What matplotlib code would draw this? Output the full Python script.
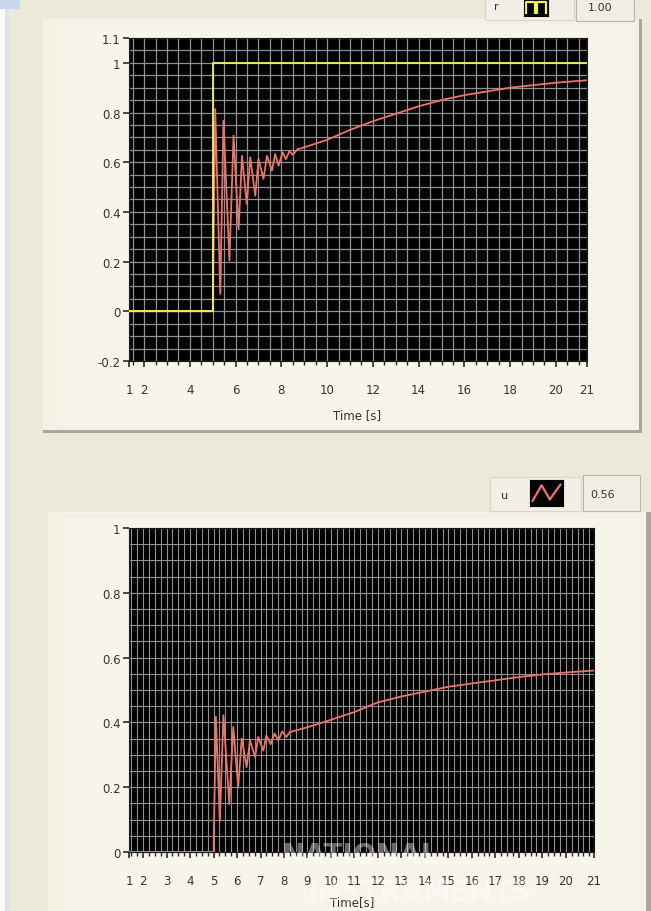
import numpy as np
import matplotlib
matplotlib.use('Agg')
import matplotlib.pyplot as plt
from matplotlib.patches import Rectangle

# data
# top chart: setpoint r and output y
t_r = [1.34, 5.0, 5.0, 21.36]
r = [0.0, 0.0, 1.0, 1.0]
t_y = [1.34, 5.0, 5.11, 5.33, 5.47, 5.73, 5.91, 6.13, 6.28, 6.49, 6.64, 6.86,
       7.0, 7.22, 7.37, 7.59, 7.73, 7.88, 8.05, 8.2, 8.35, 8.5, 8.7, 9.0,
       10.0, 11.0, 12.0, 13.0, 14.0, 15.0, 16.0, 17.0, 18.0, 19.0, 20.0, 21.36]
y = [0.0, 0.0, 0.814, 0.07, 0.767, 0.204, 0.707, 0.33, 0.626, 0.432, 0.62, 0.465,
     0.613, 0.533, 0.626, 0.566, 0.633, 0.586, 0.64, 0.612, 0.645, 0.63, 0.652, 0.66,
     0.69, 0.73, 0.765, 0.795, 0.825, 0.85, 0.87, 0.885, 0.90, 0.91, 0.92, 0.93]
# bottom chart: control signal u
t_u = [1.4, 5.0, 5.1, 5.27, 5.42, 5.67, 5.84, 6.05, 6.2, 6.41, 6.55, 6.77, 6.9,
       7.12, 7.25, 7.43, 7.6, 7.76, 7.92, 8.1, 8.25, 9.0, 10.0, 11.0, 12.0, 13.0,
       14.0, 15.0, 16.0, 17.0, 18.0, 19.0, 20.0, 21.2]
u = [0.0, 0.0, 0.417, 0.096, 0.422, 0.148, 0.386, 0.2, 0.35, 0.262, 0.345, 0.293,
     0.355, 0.313, 0.36, 0.333, 0.366, 0.344, 0.372, 0.355, 0.37, 0.385, 0.408,
     0.432, 0.462, 0.48, 0.495, 0.51, 0.52, 0.53, 0.54, 0.548, 0.554, 0.56]

top_xlim = (1.34, 21.36)
top_xticks = [2, 4, 6, 8, 10, 12, 14, 16, 18, 20]
top_yticks = [-0.2, 0, 0.2, 0.4, 0.6, 0.8, 1, 1.1]
top_ylabels = ['-0.2', '0', '0.2', '0.4', '0.6', '0.8', '1', '1.1']
bot_xlim = (1.4, 21.2)
bot_xticks = list(range(2, 21))
bot_yticks = [0, 0.2, 0.4, 0.6, 0.8, 1]
bot_ylabels = ['0', '0.2', '0.4', '0.6', '0.8', '1']
r_last = '1.00'
u_last = '0.56'

W, H = 651, 912
fig = plt.figure(figsize=(W / 100, H / 100), dpi=100)
fig.patch.set_facecolor('#ECE9DA')


def box(x0, y0, x1, y1):
    # pixel box (top-left origin) -> figure fraction rect
    return [x0 / W, 1 - y1 / H, (x1 - x0) / W, (y1 - y0) / H]


def rect(x0, y0, x1, y1, fc, ec='none', lw=0, z=-10):
    b = box(x0, y0, x1, y1)
    fig.patches.append(Rectangle((b[0], b[1]), b[2], b[3], transform=fig.transFigure,
                                 facecolor=fc, edgecolor=ec, linewidth=lw, zorder=z))


# window background pieces
rect(0, 0, 5, H, '#FAFAFA')
rect(5, 0, 9, H, '#DCE3EC')
rect(0, 0, 20, 10, '#C8D8EE')
# chart frames
rect(43, 20, 642, 434, '#A8A69C')
rect(43, 20, 639, 431, '#F3F0E4')
rect(57, 26, 634, 426, '#F7F5EA')
rect(48, 513, 651, H, '#A8A69C')
rect(48, 513, 646, H, '#F3F0E4')
rect(63, 520, 640, H, '#F7F5EA')

grid_c = '#909090'
txt_c = '#333333'
red_c = '#EC7468'
yel_c = '#F4F25C'

# ---- top chart
ax1 = fig.add_axes(box(129, 39, 587, 362))
ax1.set_facecolor('black')
ax1.plot(t_y, y, color=red_c, lw=1.3, zorder=3)
ax1.plot(t_r, r, color=yel_c, lw=1.3, zorder=4)
ax1.set_xlim(*top_xlim)
ax1.set_ylim(-0.2, 1.1)
ax1.set_xticks([top_xlim[0]] + top_xticks + [top_xlim[1]])
ax1.set_xticklabels(['1'] + [str(v) for v in top_xticks] + ['21'])
ax1.set_xticks(np.arange(1.5, 21.3, 0.5), minor=True)
ax1.set_yticks(top_yticks)
ax1.set_yticklabels(top_ylabels)
ax1.set_yticks(np.arange(-0.15, 1.1, 0.05), minor=True)
ax1.grid(True, which='both', color=grid_c, lw=0.9)
ax1.set_axisbelow(True)

# ---- bottom chart
ax2 = fig.add_axes(box(129, 529, 594, 853))
ax2.set_facecolor('black')
ax2.plot(t_u, u, color=red_c, lw=1.3, zorder=3)
ax2.set_xlim(*bot_xlim)
ax2.set_ylim(0, 1)
ax2.set_xticks([bot_xlim[0]] + bot_xticks + [bot_xlim[1]])
ax2.set_xticklabels(['1'] + [str(v) for v in bot_xticks] + ['21'])
ax2.set_xticks(np.arange(1.5, 21.2, 0.25), minor=True)
ax2.set_yticks(bot_yticks)
ax2.set_yticklabels(bot_ylabels)
ax2.set_yticks(np.arange(0.05, 1.0, 0.05), minor=True)
ax2.grid(True, which='both', color=grid_c, lw=0.8)
ax2.set_axisbelow(True)

for ax in (ax1, ax2):
    for s in ax.spines.values():
        s.set_color('#1A1A1A')
    ax.tick_params(which='major', direction='out', length=4, width=1.2,
                   color='#2A2A2A', labelsize=8.5, labelcolor=txt_c, pad=2)
    ax.tick_params(axis='x', which='minor', direction='out', length=3, width=1,
                   color='#2A2A2A')
    ax.tick_params(axis='y', which='minor', length=0)
    ax.tick_params(axis='x', which='major', pad=12)

fig.text(357 / W, 1 - 416 / H, 'Time [s]', ha='center', va='center',
         fontsize=8.5, color=txt_c)
fig.text(352 / W, 1 - 903 / H, 'Time[s]', ha='center', va='center',
         fontsize=8.5, color=txt_c)

# ---- plot legends (name, icon, last value)
rect(485, 0, 574, 21, '#F1EFE6', ec='#D8D6CC', lw=0.8)
rect(576, 0, 634, 22, '#F0EEE4', ec='#B8B6AC', lw=0.8)
fig.text(496 / W, 1 - 7 / H, 'r', ha='center', va='center', fontsize=8, color=txt_c)
fig.text(600 / W, 1 - 8 / H, r_last, ha='center', va='center', fontsize=8, color=txt_c)
ic1 = fig.add_axes(box(524, 0, 548, 17))
ic1.set_facecolor('black')
ic1.plot([0.1, 0.1, 0.45, 0.45, 0.55, 0.55, 0.9, 0.9], [0.2, 0.8, 0.8, 0.2, 0.2, 0.8, 0.8, 0.2],
         color=yel_c, lw=1.6)
ic1.set_xlim(0, 1); ic1.set_ylim(0, 1)
ic1.set_xticks([]); ic1.set_yticks([])

rect(490, 478, 581, 512, '#F1EFE6', ec='#D8D6CC', lw=0.8)
rect(583, 476, 640, 512, '#F0EEE4', ec='#B8B6AC', lw=0.8)
fig.text(505 / W, 1 - 496 / H, 'u', ha='center', va='center', fontsize=8, color=txt_c)
fig.text(603 / W, 1 - 495 / H, u_last, ha='center', va='center', fontsize=8, color=txt_c)
ic2 = fig.add_axes(box(530, 481, 563, 507))
ic2.set_facecolor('black')
ic2.plot([0.08, 0.35, 0.6, 0.92], [0.2, 0.8, 0.25, 0.82], color=red_c, lw=1.6)
ic2.set_xlim(0, 1); ic2.set_ylim(0, 1)
ic2.set_xticks([]); ic2.set_yticks([])

# faded watermark over the bottom axis
fig.text(360 / W, 1 - 856 / H, 'NATIONAL', ha='center', va='center', fontsize=20,
         fontweight='bold', color='white', alpha=0.4, zorder=10)
fig.text(420 / W, 1 - 893 / H, 'INSTRUMENTS', ha='center', va='center', fontsize=20,
         fontweight='bold', color='white', alpha=0.35, zorder=10)

plt.savefig('out.png', dpi=100, facecolor=fig.get_facecolor())
plt.close()
